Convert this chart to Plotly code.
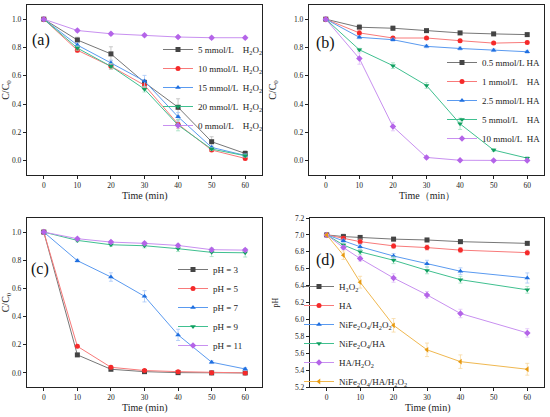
import plotly.graph_objects as go

# sampling times (min)
time_abc = [0, 10, 20, 30, 40, 50, 60]
time_d = [0, 5, 10, 20, 30, 40, 60]

# (a) effect of H2O2 dosage
h2o2_names = ["5 mmol/L\u00a0\u00a0\u00a0\u00a0H<sub>2</sub>O<sub>2</sub>",
              "10 mmol/L\u00a0\u00a0H<sub>2</sub>O<sub>2</sub>",
              "15 mmol/L\u00a0\u00a0H<sub>2</sub>O<sub>2</sub>",
              "20 mmol/L\u00a0\u00a0H<sub>2</sub>O<sub>2</sub>",
              "0 mmol/L\u00a0\u00a0\u00a0\u00a0H<sub>2</sub>O<sub>2</sub>"]
h2o2_vals = [
    [1.0, 0.853, 0.755, 0.553, 0.378, 0.135, 0.052],
    [1.0, 0.781, 0.667, 0.534, 0.259, 0.076, 0.017],
    [1.0, 0.817, 0.691, 0.563, 0.311, 0.095, 0.038],
    [1.0, 0.796, 0.667, 0.506, 0.252, 0.083, 0.036],
    [1.0, 0.920, 0.897, 0.886, 0.874, 0.869, 0.869],
]
h2o2_err = [
    [0, 0.02, 0.05, 0.02, 0.06, 0.035, 0.02],
    [0, 0.015, 0.02, 0.03, 0.03, 0.01, 0.01],
    [0, 0.015, 0.02, 0.04, 0.03, 0.01, 0.01],
    [0, 0.015, 0.02, 0.02, 0.04, 0.01, 0.01],
    [0, 0.01, 0.01, 0.01, 0.01, 0.01, 0.01],
]

# (b) effect of HA dosage
ha_names = ["0.5 mmol/L HA", "1 mmol/L\u00a0\u00a0\u00a0\u00a0HA", "2.5 mmol/L HA",
            "5 mmol/L\u00a0\u00a0\u00a0\u00a0HA", "10 mmol/L\u00a0\u00a0HA"]
ha_vals = [
    [1.0, 0.943, 0.936, 0.919, 0.903, 0.896, 0.891],
    [1.0, 0.903, 0.867, 0.867, 0.848, 0.831, 0.836],
    [1.0, 0.872, 0.855, 0.808, 0.793, 0.781, 0.770],
    [1.0, 0.784, 0.672, 0.532, 0.261, 0.076, 0.019],
    [1.0, 0.722, 0.242, 0.024, 0.004, 0.003, 0.002],
]
ha_err = [
    [0, 0.02, 0.015, 0.01, 0.01, 0.01, 0.01],
    [0, 0.02, 0.01, 0.01, 0.01, 0.01, 0.01],
    [0, 0.01, 0.01, 0.01, 0.01, 0.01, 0.01],
    [0, 0.01, 0.02, 0.02, 0.04, 0.01, 0.01],
    [0, 0.04, 0.03, 0.01, 0.005, 0.005, 0.005],
]

# (c) effect of pH
ph_names = ["pH = 3", "pH = 5", "pH = 7", "pH = 9", "pH = 11"]
ph_vals = [
    [1.0, 0.128, 0.026, 0.009, 0.002, 0.0, 0.0],
    [1.0, 0.189, 0.040, 0.017, 0.009, 0.002, 0.0],
    [1.0, 0.797, 0.681, 0.544, 0.270, 0.076, 0.028],
    [1.0, 0.941, 0.910, 0.903, 0.882, 0.856, 0.853],
    [1.0, 0.953, 0.929, 0.920, 0.905, 0.875, 0.872],
]
ph_err = [
    [0, 0.01, 0.01, 0.005, 0.005, 0.003, 0.003],
    [0, 0.01, 0.01, 0.005, 0.005, 0.003, 0.003],
    [0, 0.01, 0.03, 0.04, 0.04, 0.01, 0.01],
    [0, 0.01, 0.01, 0.015, 0.02, 0.03, 0.03],
    [0, 0.01, 0.01, 0.01, 0.01, 0.01, 0.01],
]

# (d) pH change of the systems
sys_names = ["H<sub>2</sub>O<sub>2</sub>", "HA",
             "NiFe<sub>2</sub>O<sub>4</sub>/H<sub>2</sub>O<sub>2</sub>",
             "NiFe<sub>2</sub>O<sub>4</sub>/HA",
             "HA/H<sub>2</sub>O<sub>2</sub>",
             "NiFe<sub>2</sub>O<sub>4</sub>/HA/H<sub>2</sub>O<sub>2</sub>"]
sys_vals = [
    [7.0, 6.98, 6.97, 6.95, 6.94, 6.92, 6.90],
    [7.0, 6.96, 6.92, 6.87, 6.85, 6.82, 6.79],
    [7.0, 6.93, 6.86, 6.75, 6.66, 6.57, 6.49],
    [7.0, 6.88, 6.80, 6.70, 6.58, 6.47, 6.35],
    [7.0, 6.85, 6.72, 6.49, 6.29, 6.07, 5.84],
    [7.0, 6.76, 6.44, 5.93, 5.64, 5.50, 5.41],
]
sys_err = [
    [0, 0.03, 0.02, 0.02, 0.02, 0.02, 0.02],
    [0, 0.02, 0.03, 0.03, 0.03, 0.03, 0.03],
    [0, 0.02, 0.03, 0.03, 0.04, 0.04, 0.06],
    [0, 0.02, 0.03, 0.04, 0.04, 0.04, 0.04],
    [0, 0.02, 0.03, 0.05, 0.04, 0.05, 0.05],
    [0, 0.05, 0.07, 0.08, 0.08, 0.08, 0.07],
]

marker_col = ["#444444", "#f52a2a", "#1f6fe0", "#10a060", "#b464e8", "#e89a10"]
line_col = ["#777777", "#f87a7a", "#5a9af0", "#40c090", "#c890f0", "#f0b850"]
err_col = ["#bbbbbb", "#f8b0b0", "#a8c8f8", "#a0e0c0", "#e0c0f8", "#f8d8a0"]
symbols = ["square", "circle", "triangle-up", "triangle-down", "diamond", "triangle-left"]

FONT = "Liberation Serif"

fig = go.Figure()


def add_panel(x, names, vals, errs, n, legend):
    for i, name in enumerate(names):
        fig.add_trace(go.Scatter(
            x=x, y=vals[i], name=name, mode="lines+markers",
            line=dict(color=line_col[i], width=1),
            marker=dict(color=marker_col[i], symbol=symbols[i], size=5),
            error_y=dict(type="data", array=errs[i], color=err_col[i], thickness=0.8, width=2),
            xaxis="x" + n, yaxis="y" + n, legend=legend,
        ))


add_panel(time_abc, h2o2_names, h2o2_vals, h2o2_err, "", "legend")
add_panel(time_abc, ha_names, ha_vals, ha_err, "2", "legend2")
add_panel(time_abc, ph_names, ph_vals, ph_err, "3", "legend3")
add_panel(time_d, sys_names, sys_vals, sys_err, "4", "legend4")

W, H = 550, 417
# plot boxes in pixels: left, right, top, bottom
boxes = [(27, 262, 5, 175), (309, 544, 5, 175), (27, 262, 218, 387), (310, 544, 218, 387)]
xtitles = ["Time (min)", "Time\uff08min\uff09", "Time (min)", "Time (min)"]
ytitles = ["C/C<sub>0</sub>", "C/C<sub>0</sub>", "C/C<sub>0</sub>", "pH"]

axis_style = dict(showline=True, mirror=True, linecolor="#222222", linewidth=1.3,
                  ticks="outside", ticklen=3, tickwidth=1, tickcolor="#222222",
                  showgrid=False, zeroline=False, automargin=False,
                  tickfont=dict(family=FONT, size=7.5, color="#222222"))

for k, (l, r, t, b) in enumerate(boxes):
    n = "" if k == 0 else str(k + 1)
    fig.layout["xaxis" + n] = dict(
        axis_style, domain=[l / W, r / W], anchor="y" + n, range=[-5, 65],
        tickmode="linear", tick0=0, dtick=10)
    if k < 3:
        yr = [-0.1, 1.1]
    else:
        yr = [5.2, 7.2]
    fig.layout["yaxis" + n] = dict(
        axis_style, domain=[1 - b / H, 1 - t / H], anchor="x" + n, range=yr,
        tickmode="linear", tick0=yr[0] if k == 3 else 0, dtick=0.2, tickformat=".1f",
        title=dict(text=ytitles[k], font=dict(family=FONT, size=8 if k == 3 else 10, color="#222222")))
    # x axis title, placed just under the tick labels
    fig.add_annotation(text=xtitles[k], x=(l + r) / 2 / W, y=1 - (b + 21) / H,
                       xref="paper", yref="paper", xanchor="center", yanchor="middle",
                       showarrow=False, font=dict(family=FONT, size=10, color="#222222"))

# panel labels
for lab, px, py in [("(a)", 41, 40), ("(b)", 325, 43), ("(c)", 40, 269), ("(d)", 325, 260)]:
    fig.add_annotation(text=lab, x=px / W, y=1 - py / H, xref="paper", yref="paper",
                       xanchor="center", yanchor="middle",
                       showarrow=False, font=dict(family=FONT, size=16, color="#111111"))

leg_style = dict(font=dict(family=FONT, size=9, color="#222222"), bgcolor="rgba(0,0,0,0)",
                 xanchor="left", yanchor="top", itemwidth=30, tracegroupgap=0)
fig.update_layout(
    width=W, height=H, margin=dict(l=0, r=0, t=0, b=0),
    paper_bgcolor="white", plot_bgcolor="white", showlegend=True,
    legend=dict(leg_style, x=158 / W, y=1 - 35 / H),
    legend2=dict(leg_style, x=442 / W, y=1 - 48 / H),
    legend3=dict(leg_style, x=173 / W, y=1 - 255 / H),
    legend4=dict(leg_style, x=299 / W, y=1 - 272 / H),
)

# page body has an 8px default margin; drop it so the figure fills the window
fig.write_html("out.html", config={"displayModeBar": False},
               post_script="document.body.style.margin='0px';")
